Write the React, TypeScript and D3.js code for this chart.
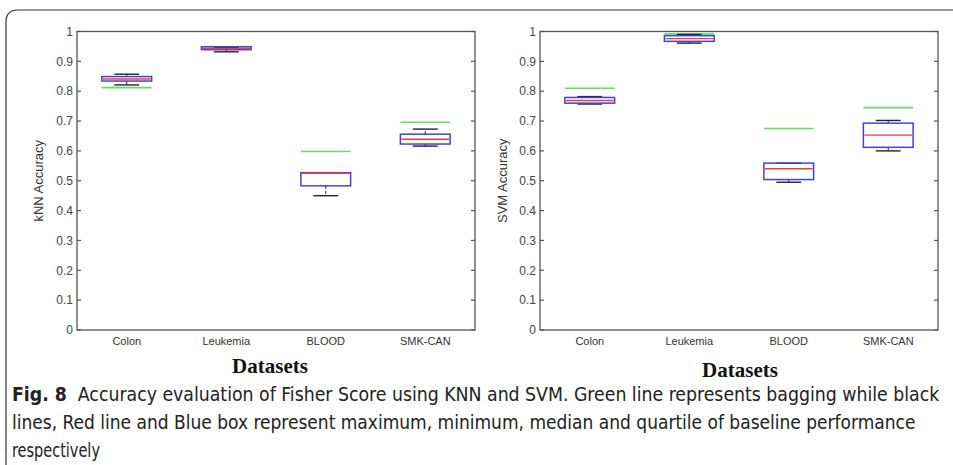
import { useEffect, useRef } from "react";
import * as d3 from "d3";

const categories = ["Colon", "Leukemia", "BLOOD", "SMK-CAN"];
const yTicks = [0, 0.1, 0.2, 0.3, 0.4, 0.5, 0.6, 0.7, 0.8, 0.9, 1];

// kNN panel
const knnMax = [0.857, 0.947, 0.527, 0.673];
const knnQ3 = [0.849, 0.949, 0.527, 0.656];
const knnMedian = [0.841, 0.943, 0.525, 0.639];
const knnQ1 = [0.834, 0.939, 0.483, 0.623];
const knnMin = [0.821, 0.932, 0.45, 0.616];
const knnBagging = [0.812, 0.944, 0.598, 0.696];

// SVM panel
const svmMax = [0.782, 0.99, 0.559, 0.702];
const svmQ3 = [0.779, 0.986, 0.559, 0.693];
const svmMedian = [0.769, 0.976, 0.54, 0.653];
const svmQ1 = [0.76, 0.967, 0.504, 0.612];
const svmMin = [0.757, 0.961, 0.495, 0.6];
const svmBagging = [0.81, 0.992, 0.675, 0.745];

const W = 953;
const H = 465;

type Panel = {
  left: number;
  right: number;
  yLabel: string;
  yLabelX: number;
  titleX: number;
  titleY: number;
  max: number[];
  q3: number[];
  median: number[];
  q1: number[];
  min: number[];
  bagging: number[];
};

const panels: Panel[] = [
  {
    left: 77, right: 475, yLabel: "kNN Accuracy", yLabelX: 43, titleX: 270, titleY: 373,
    max: knnMax, q3: knnQ3, median: knnMedian, q1: knnQ1, min: knnMin, bagging: knnBagging,
  },
  {
    left: 540, right: 938, yLabel: "SVM Accuracy", yLabelX: 507, titleX: 740, titleY: 377,
    max: svmMax, q3: svmQ3, median: svmMedian, q1: svmQ1, min: svmMin, bagging: svmBagging,
  },
];

const captionLines = [
  { bold: "Fig. 8", text: "  Accuracy evaluation of Fisher Score using KNN and SVM. Green line represents bagging while black", len: 928 },
  { bold: "", text: "lines, Red line and Blue box represent maximum, minimum, median and quartile of baseline performance", len: 904 },
  { bold: "", text: "respectively", len: 88 },
];

const sans = "'Liberation Sans', Arial, sans-serif";

export default function App() {
  const svgRef = useRef<SVGSVGElement | null>(null);

  useEffect(() => {
    if (!svgRef.current) return;
    const svg = d3.select(svgRef.current);
    svg.selectAll("*").remove();

    svg.append("rect").attr("width", W).attr("height", H).attr("fill", "#fff");

    // outer figure frame (top + left, rounded corner)
    svg
      .append("path")
      .attr("d", `M6,465 L6,22 Q6,10 18,10 L953,10`)
      .attr("fill", "none")
      .attr("stroke", "#333")
      .attr("stroke-width", 1.2);

    const top = 31.5;
    const bottom = 330;
    const y = d3.scaleLinear().domain([0, 1]).range([bottom, top]);

    panels.forEach((p) => {
      const g = svg.append("g");
      const x = d3.scaleBand<string>().domain(categories).range([p.left, p.right]).padding(0);
      const bw = x.bandwidth();
      const boxW = bw * 0.5;
      const capW = boxW * 0.5;
      const cx = (c: string) => (x(c) ?? 0) + bw / 2;

      // axes box
      g.append("rect")
        .attr("x", p.left)
        .attr("y", top)
        .attr("width", p.right - p.left)
        .attr("height", bottom - top)
        .attr("fill", "none")
        .attr("stroke", "#555")
        .attr("stroke-width", 1.3);

      // ticks (inside, both sides)
      yTicks.forEach((t) => {
        g.append("line")
          .attr("x1", p.left).attr("x2", p.left + 4)
          .attr("y1", y(t)).attr("y2", y(t))
          .attr("stroke", "#555").attr("stroke-width", 1.2);
        g.append("line")
          .attr("x1", p.right - 4).attr("x2", p.right)
          .attr("y1", y(t)).attr("y2", y(t))
          .attr("stroke", "#555").attr("stroke-width", 1.2);
        g.append("text")
          .attr("x", p.left - 4)
          .attr("y", y(t))
          .attr("dy", "0.35em")
          .attr("text-anchor", "end")
          .style("font-family", sans)
          .style("font-size", "12px")
          .style("fill", "#444")
          .text(String(t));
      });

      // category labels
      categories.forEach((c) => {
        g.append("text")
          .attr("x", cx(c))
          .attr("y", 345)
          .attr("text-anchor", "middle")
          .style("font-family", sans)
          .style("font-size", "11px")
          .style("fill", "#333")
          .text(c);
      });

      // y label
      g.append("text")
        .attr("transform", `translate(${p.yLabelX},${(top + bottom) / 2}) rotate(-90)`)
        .attr("text-anchor", "middle")
        .style("font-family", sans)
        .style("font-size", "13px")
        .style("fill", "#333")
        .text(p.yLabel);

      // x title
      g.append("text")
        .attr("x", p.titleX)
        .attr("y", p.titleY)
        .attr("text-anchor", "middle")
        .style("font-family", "'Liberation Serif', 'Times New Roman', serif")
        .style("font-weight", "bold")
        .style("font-size", "21px")
        .style("fill", "#111")
        .text("Datasets");

      categories.forEach((c, i) => {
        const xc = cx(c);
        // bagging (green)
        g.append("line")
          .attr("x1", xc - boxW / 2).attr("x2", xc + boxW / 2)
          .attr("y1", y(p.bagging[i])).attr("y2", y(p.bagging[i]))
          .attr("stroke", "#5fe05f").attr("stroke-width", 1.6);
        // whiskers (dashed)
        g.append("line")
          .attr("x1", xc).attr("x2", xc)
          .attr("y1", y(p.q1[i])).attr("y2", y(p.min[i]))
          .attr("stroke", "#222").attr("stroke-width", 1).attr("stroke-dasharray", "3,2");
        g.append("line")
          .attr("x1", xc).attr("x2", xc)
          .attr("y1", y(p.q3[i])).attr("y2", y(p.max[i]))
          .attr("stroke", "#222").attr("stroke-width", 1).attr("stroke-dasharray", "3,2");
        [p.min[i], p.max[i]].forEach((v) => {
          g.append("line")
            .attr("x1", xc - capW / 2).attr("x2", xc + capW / 2)
            .attr("y1", y(v)).attr("y2", y(v))
            .attr("stroke", "#222").attr("stroke-width", 1.4);
        });
        // box
        g.append("rect")
          .attr("x", xc - boxW / 2)
          .attr("y", y(p.q3[i]))
          .attr("width", boxW)
          .attr("height", Math.max(1, y(p.q1[i]) - y(p.q3[i])))
          .attr("fill", "none")
          .attr("stroke", "#4040e0")
          .attr("stroke-width", 1.5);
        // median
        g.append("line")
          .attr("x1", xc - boxW / 2 + 1).attr("x2", xc + boxW / 2 - 1)
          .attr("y1", y(p.median[i])).attr("y2", y(p.median[i]))
          .attr("stroke", "#f03c3c").attr("stroke-width", 1.4);
      });
    });

    // caption: condensed look by squeezing each line horizontally to the reference width
    captionLines.forEach((ln, i) => {
      const row = svg.append("g");
      const t = row
        .append("text")
        .attr("x", 0)
        .attr("y", 0)
        .attr("xml:space", "preserve")
        .style("white-space", "pre")
        .style("font-family", "'Liberation Sans Narrow', 'DejaVu Sans Condensed', sans-serif")
        .style("font-size", "20px")
        .style("fill", "#222");
      if (ln.bold) t.append("tspan").style("font-weight", "bold").text(ln.bold);
      t.append("tspan").text(ln.text);
      const natural = (t.node() as SVGTextElement).getComputedTextLength() || ln.len;
      row.attr("transform", `translate(12,${401 + i * 28}) scale(${ln.len / natural},1)`);
    });
  }, []);

  return (
    <svg
      ref={svgRef}
      width={W}
      height={H}
      style={{ position: "absolute", left: 0, top: 0, display: "block" }}
    />
  );
}
